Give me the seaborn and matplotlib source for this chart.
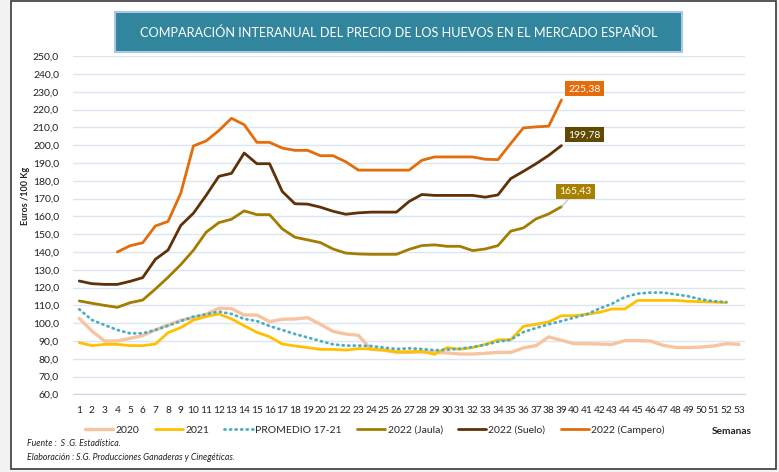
import matplotlib
matplotlib.use("Agg")
import matplotlib.pyplot as plt
from matplotlib.patches import Rectangle
from matplotlib.lines import Line2D
import seaborn as sns

# precios semanales, euros / 100 kg
weeks_2020 = list(range(1, 54))
precio_2020 = [102.7, 95.6, 90.0, 90.0, 91.5, 93.0, 96.2, 99.0, 101.6, 103.1,
               105.0, 108.4, 108.2, 104.6, 104.6, 100.9, 102.2, 102.4, 103.1, 99.4,
               95.4, 93.9, 93.2, 85.3, 84.9, 83.6, 83.6, 83.8, 83.8, 83.3,
               82.7, 82.7, 83.1, 83.6, 83.6, 86.1, 87.4, 92.3, 90.4, 88.5,
               88.5, 88.3, 88.1, 90.2, 90.2, 90.0, 87.6, 86.4, 86.3, 86.6,
               87.2, 88.5, 88.1]
weeks_2021 = list(range(1, 53))
precio_2021 = [89.1, 87.4, 88.1, 88.1, 87.4, 87.4, 88.3, 94.7, 97.5, 101.8,
               103.7, 105.2, 102.4, 98.6, 94.9, 92.4, 88.3, 87.2, 86.3, 85.3,
               85.3, 84.9, 85.7, 85.5, 84.9, 84.0, 84.0, 84.2, 82.5, 86.3,
               85.3, 86.3, 88.1, 90.7, 90.7, 98.2, 99.4, 100.7, 104.2, 104.2,
               105.0, 106.1, 108.0, 108.0, 112.8, 112.8, 112.8, 112.8, 112.3, 112.1,
               111.9, 111.5]
promedio = [107.8, 101.8, 99.0, 96.2, 94.3, 94.3, 96.2, 98.6, 101.2, 103.7,
            105.0, 106.5, 105.2, 102.4, 101.2, 98.4, 96.2, 93.9, 92.0, 90.0,
            88.1, 87.4, 87.4, 87.2, 86.3, 85.5, 85.9, 85.5, 84.8, 85.1,
            85.7, 86.6, 87.9, 89.6, 90.7, 95.0, 97.3, 99.4, 101.2, 103.1,
            105.0, 108.2, 111.0, 114.7, 116.6, 117.2, 117.2, 116.2, 115.1, 113.4,
            112.3, 111.9]
weeks_2022 = list(range(1, 40))
jaula = [112.5, 111.2, 110.0, 108.9, 111.5, 113.0, 119.2, 125.8, 132.9, 141.0,
         151.1, 156.5, 158.4, 163.1, 161.0, 161.0, 153.0, 148.3, 146.8, 145.3,
         141.7, 139.4, 138.9, 138.7, 138.7, 138.7, 141.5, 143.6, 144.0, 143.2,
         143.2, 140.8, 141.7, 143.6, 151.7, 153.5, 158.6, 161.4, 165.43]
suelo = [123.7, 122.2, 121.8, 121.8, 123.5, 125.6, 135.9, 141.1, 154.9, 161.8,
         171.8, 182.5, 184.2, 195.6, 189.6, 189.6, 174.0, 167.1, 166.9, 165.2,
         162.9, 161.2, 162.0, 162.4, 162.4, 162.4, 168.4, 172.3, 171.8, 171.8,
         171.8, 171.8, 170.8, 172.1, 181.2, 185.3, 189.6, 194.3, 199.78]
weeks_campero = list(range(4, 40))
campero = [140.0, 143.5, 145.2, 154.6, 157.2, 173.0, 199.6, 202.4, 208.2, 215.1,
           211.5, 201.6, 201.6, 198.4, 197.1, 197.1, 194.1, 194.1, 190.7, 186.0,
           186.0, 186.0, 186.0, 186.0, 191.5, 193.4, 193.4, 193.4, 193.4, 192.1,
           191.9, 200.9, 209.7, 210.3, 210.7, 225.38]

sns.set_style("white")
plt.rcParams["font.family"] = ["Lato", "DejaVu Sans"]

W, H = 779, 472
fig = plt.figure(figsize=(W / 100, H / 100), dpi=100, facecolor="#F2F2F2")

# marco blanco
fig.patches.append(Rectangle((11 / W, 3 / H), 765 / W, 468 / H, transform=fig.transFigure,
                             facecolor="white", edgecolor="#3A3A3A", lw=1.2, zorder=-2))

ax = fig.add_axes([72.9 / W, 1 - 394.4 / H, (745.4 - 72.9) / W, (394.4 - 56.2) / H])
ax.set_facecolor("none")
ax.set_zorder(1)

c2020, c2021, cprom = "#F8C4A0", "#FFC000", "#4BACC6"
cjaula, csuelo, ccamp = "#A47C00", "#5E3108", "#E46C0A"
lw = 2.0
dots = (0, (0.4, 1.6))

sns.lineplot(x=weeks_2020, y=precio_2020, color=c2020, lw=lw + 0.4, ax=ax)
sns.lineplot(x=weeks_2021, y=precio_2021, color=c2021, lw=lw, ax=ax)
sns.lineplot(x=weeks_2021, y=promedio, color=cprom, lw=lw,
             linestyle=dots, dash_capstyle="round", ax=ax)
sns.lineplot(x=weeks_2022, y=jaula, color=cjaula, lw=lw, ax=ax)
sns.lineplot(x=weeks_2022, y=suelo, color=csuelo, lw=lw, ax=ax)
sns.lineplot(x=weeks_campero, y=campero, color=ccamp, lw=lw, ax=ax)

ax.set_xlim(0.5, 53.5)
ax.set_ylim(60, 250)
yt = list(range(60, 251, 10))
ax.set_yticks(yt)
ax.set_yticklabels([f"{v:.1f}".replace(".", ",") for v in yt], fontsize=7.5, color="#222222")
ax.set_xticks(range(1, 54))
ax.set_xticklabels([str(i) for i in range(1, 54)], fontsize=7.3, color="#222222")
ax.set_xticks([i + 0.5 for i in range(0, 54)], minor=True)
ax.tick_params(axis="y", length=0, pad=10)
ax.tick_params(axis="x", which="major", length=0, pad=8)
ax.tick_params(axis="x", which="minor", length=3.5, color="#C9D6EA", width=0.9, direction="out")
ax.grid(axis="y", color="#DCE5F2", lw=1.0)
ax.grid(axis="x", visible=False)
for s in ["left", "top", "right"]:
    ax.spines[s].set_visible(False)
ax.spines["bottom"].set_color("#C9D6EA")
ax.set_xlabel("")
ax.set_ylabel("")

# etiquetas de valor final
box = dict(boxstyle="square,pad=0.3", ec="none")
ax.annotate("225,38", (40.8, 231.7), ha="center", va="center", color="white", fontsize=7.5,
            bbox={**box, "fc": ccamp})
ax.annotate("199,78", (40.8, 205.9), ha="center", va="center", color="white", fontsize=7.5,
            bbox={**box, "fc": "#5F4A00"})
ax.annotate("165,43", xy=(39, jaula[-1]), xytext=(40.1, 173.9), ha="center", va="center",
            color="white", fontsize=7.5, bbox={**box, "fc": "#A88000"},
            arrowprops=dict(arrowstyle="-", color="#9DC3E6", lw=0.8, shrinkA=0, shrinkB=0))

# título
fig.patches.append(Rectangle((115 / W, 1 - 52 / H), 567 / W, 40 / H, transform=fig.transFigure,
                             facecolor="#31859C", edgecolor="#A9C8E8", lw=1.5, zorder=1))
fig.text(398.5 / W, 1 - 32.5 / H, "COMPARACIÓN INTERANUAL DEL PRECIO DE LOS HUEVOS EN EL MERCADO ESPAÑOL",
         ha="center", va="center", color="white", fontsize=9.2, zorder=2)

fig.text(26 / W, 1 - 196 / H, "Euros /100 Kg", rotation=90, ha="center", va="center",
         fontsize=6.5, fontweight="bold", color="#222222")

handles = [
    Line2D([], [], color=c2020, lw=lw + 0.4),
    Line2D([], [], color=c2021, lw=lw),
    Line2D([], [], color=cprom, lw=lw, linestyle=dots, dash_capstyle="round"),
    Line2D([], [], color=cjaula, lw=lw),
    Line2D([], [], color=csuelo, lw=lw),
    Line2D([], [], color=ccamp, lw=lw),
]
labels = ["2020", "2021", "PROMEDIO 17-21", "2022 (Jaula)", "2022 (Suelo)", "2022 (Campero)"]
fig.legend(handles, labels, loc="center", bbox_to_anchor=(375 / W, 1 - 430 / H), ncol=6,
           frameon=False, fontsize=7.5, handlelength=2.7, handletextpad=0.25, columnspacing=1.45)
fig.text(732 / W, 1 - 431 / H, "Semanas", ha="center", va="center", fontsize=7.3,
         fontweight="bold", color="#222222")

fig.text(27 / W, 1 - 444 / H, "Fuente :  S .G. Estadística.", ha="left", va="center",
         fontsize=6.3, style="italic", color="#222222")
fig.text(27 / W, 1 - 458 / H, "Elaboración : S.G. Producciones Ganaderas y Cinegéticas.",
         ha="left", va="center", fontsize=6.3, style="italic", color="#222222")

fig.savefig("out.png", dpi=100, facecolor=fig.get_facecolor())
